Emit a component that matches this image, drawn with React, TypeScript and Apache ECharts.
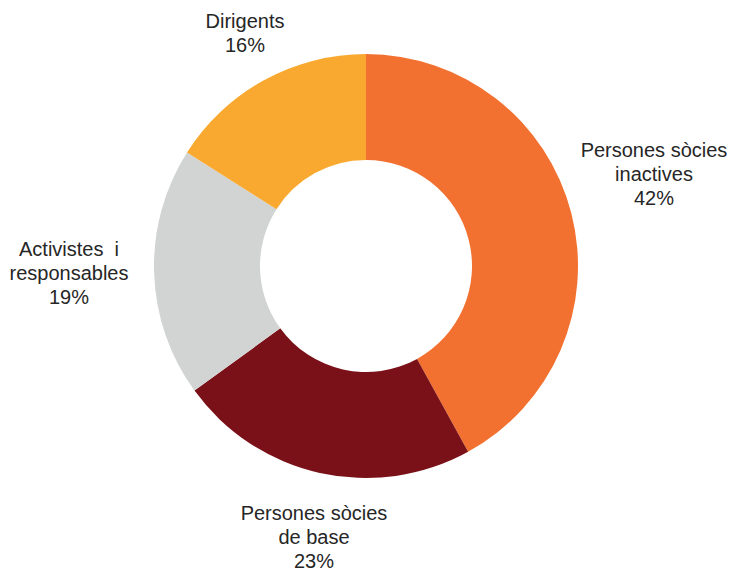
import React, { useEffect, useRef } from "react";
import * as echarts from "echarts";

const categories = [
  "Persones sòcies\ninactives",
  "Persones sòcies\nde base",
  "Activistes  i\nresponsables",
  "Dirigents",
];
const values = [42, 23, 19, 16];
const colors = ["#F37130", "#7A1118", "#D1D4D2", "#F9A930"];

// label centres (layout only)
const labelPos: [number, number][] = [
  [654, 174],
  [314, 537],
  [69, 273],
  [245, 33],
];

export default function App() {
  const ref = useRef<HTMLDivElement>(null);
  useEffect(() => {
    if (!ref.current) return;
    const chart = echarts.init(ref.current, undefined, { renderer: "svg" });
    chart.setOption({
      animation: false,
      backgroundColor: "#ffffff",
      series: [
        {
          type: "pie",
          center: [366, 266],
          radius: [106, 212],
          startAngle: 90,
          clockwise: true,
          emphasis: { disabled: true },
          silent: true,
          avoidLabelOverlap: false,
          itemStyle: { borderWidth: 0 },
          label: {
            show: true,
            position: "outside",
            formatter: "{b}\n{c}%",
            fontFamily: "Liberation Sans, Arial, sans-serif",
            fontSize: 20,
            lineHeight: 24,
            color: "#262626",
            align: "center",
            overflow: "none",
            edgeDistance: 0,
            bleedMargin: 0,
          },
          labelLine: { show: false },
          labelLayout: (params: any) => {
            const p = labelPos[params.dataIndex];
            return { x: p[0], y: p[1], align: "center", verticalAlign: "middle" };
          },
          data: categories.map((name, i) => ({
            name,
            value: values[i],
            itemStyle: { color: colors[i] },
          })),
        },
      ],
    });
    return () => chart.dispose();
  }, []);
  return (
    <div
      ref={ref}
      style={{ position: "absolute", left: 0, top: 0, width: 730, height: 571 }}
    />
  );
}
